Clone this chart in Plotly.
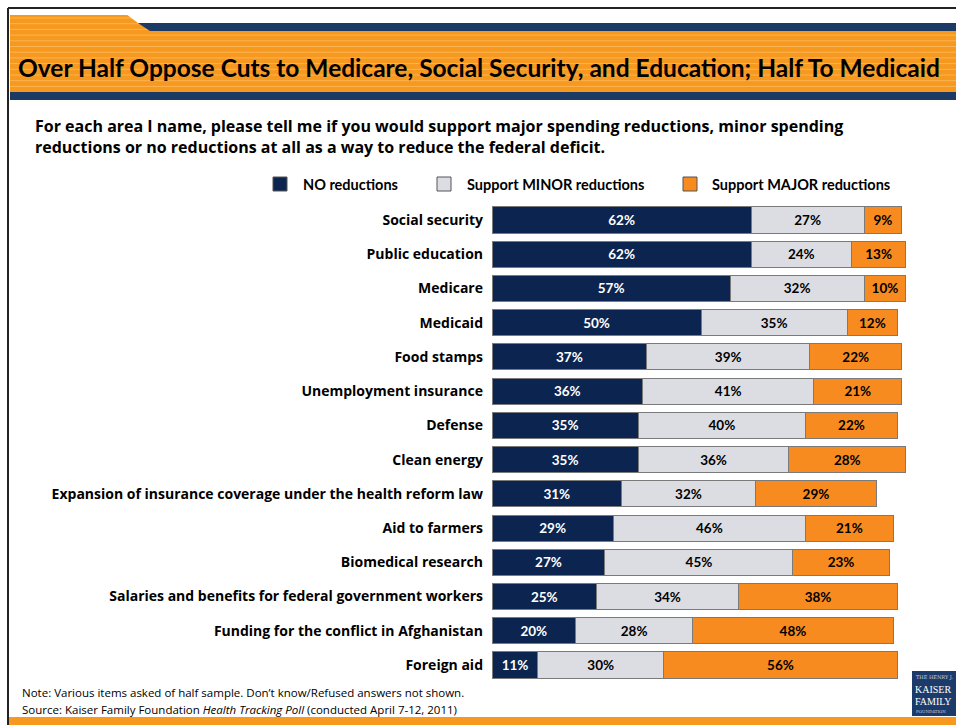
import plotly.graph_objects as go

# Survey items (top to bottom) and response shares in percent
categories = [
    "Social security",
    "Public education",
    "Medicare",
    "Medicaid",
    "Food stamps",
    "Unemployment insurance",
    "Defense",
    "Clean energy",
    "Expansion of insurance coverage under the health reform law",
    "Aid to farmers",
    "Biomedical research",
    "Salaries and benefits for federal government workers",
    "Funding for the conflict in Afghanistan",
    "Foreign aid",
]
no_reductions = [62, 62, 57, 50, 37, 36, 35, 35, 31, 29, 27, 25, 20, 11]
minor_reductions = [27, 24, 32, 35, 39, 41, 40, 36, 32, 46, 45, 34, 28, 30]
major_reductions = [9, 13, 10, 12, 22, 21, 22, 28, 29, 21, 23, 38, 48, 56]

series_names = ["NO reductions", "Support MINOR reductions", "Support MAJOR reductions"]

W, H = 956, 725
FONT = "Open Sans"
FONT_NARROW = "Lato"
NAVY_BAR = "#0c2550"
GRAY_BAR = "#dcdce3"
ORANGE_BAR = "#f78b1f"
HEADER_ORANGE = "#f7981f"
HEADER_NAVY = "#1b3a64"


def X(px):
    return px / W


def Y(py):
    return 1 - py / H


fig = go.Figure()

series = [
    (series_names[0], no_reductions, NAVY_BAR, "white"),
    (series_names[1], minor_reductions, GRAY_BAR, "black"),
    (series_names[2], major_reductions, ORANGE_BAR, "black"),
]
for name, vals, color, tcolor in series:
    fig.add_trace(go.Bar(
        y=categories, x=vals, name=name, orientation="h",
        marker=dict(color=color, line=dict(color="#7a7a7a", width=1)),
        texttemplate="%{x}%", textposition="inside", insidetextanchor="middle",
        textangle=0, constraintext="none",
        textfont=dict(family=FONT_NARROW, size=13.5, color=tcolor, weight="bold"),
        showlegend=False, hoverinfo="skip",
    ))

shapes = []
# header background with its tab at the top left
shapes.append(dict(type="rect", xref="paper", yref="paper", x0=X(10), x1=X(W), y0=Y(92), y1=Y(15),
                   fillcolor=HEADER_ORANGE, line=dict(width=0), layer="below"))
y = 18.0
while y < 91:
    shapes.append(dict(type="line", xref="paper", yref="paper", x0=X(10), x1=X(W), y0=Y(y), y1=Y(y),
                       line=dict(color="rgba(255,205,130,0.55)", width=1), layer="below"))
    y += 5.7
# white cut-out right of the tab
shapes.append(dict(type="path", xref="paper", yref="paper",
                   path=f"M {X(126)},{Y(14)} L {X(W)},{Y(14)} L {X(W)},{Y(23)} L {X(138)},{Y(23)} Z",
                   fillcolor="white", line=dict(width=0), layer="below"))
# navy band along the top
shapes.append(dict(type="path", xref="paper", yref="paper",
                   path=f"M {X(138)},{Y(23)} L {X(W)},{Y(23)} L {X(W)},{Y(31)} L {X(150)},{Y(31)} Z",
                   fillcolor=HEADER_NAVY, line=dict(width=0), layer="below"))
# navy band under the title
shapes.append(dict(type="rect", xref="paper", yref="paper", x0=X(10), x1=X(W), y0=Y(100), y1=Y(92),
                   fillcolor=HEADER_NAVY, line=dict(width=0), layer="below"))
# slide frame
shapes.append(dict(type="line", xref="paper", yref="paper", x0=X(8), x1=X(8), y0=Y(8), y1=Y(H),
                   line=dict(color="#222", width=2)))
shapes.append(dict(type="line", xref="paper", yref="paper", x0=X(8), x1=X(W), y0=Y(8), y1=Y(8),
                   line=dict(color="#222", width=2)))
# bottom orange strip
shapes.append(dict(type="rect", xref="paper", yref="paper", x0=X(9), x1=X(W), y0=Y(H), y1=Y(717),
                   fillcolor=HEADER_ORANGE, line=dict(width=0)))
# foundation logo block
shapes.append(dict(type="rect", xref="paper", yref="paper", x0=X(912), x1=X(W), y0=Y(716), y1=Y(671),
                   fillcolor="#1d3b6a", line=dict(width=0)))

# legend swatches
legend_items = [(273, 301, NAVY_BAR), (437, 465, GRAY_BAR), (683, 710, ORANGE_BAR)]
annotations = []
for (sx, tx, col), name in zip(legend_items, series_names):
    shapes.append(dict(type="rect", xref="paper", yref="paper", x0=X(sx), x1=X(sx + 14),
                       y0=Y(191), y1=Y(177), fillcolor=col, line=dict(color="#555", width=1)))
    annotations.append(dict(xref="paper", yref="paper", x=X(tx), y=Y(184), text=name,
                            showarrow=False, xanchor="left", yanchor="middle",
                            font=dict(family=FONT_NARROW, size=14.5, color="black", weight="bold")))

annotations += [
    dict(xref="paper", yref="paper", x=X(479), y=Y(68),
         text="Over Half Oppose Cuts to Medicare, Social Security, and Education; Half To Medicaid",
         showarrow=False, xanchor="center", yanchor="middle",
         font=dict(family=FONT_NARROW, size=24.5, color="black", weight="bold")),
    dict(xref="paper", yref="paper", x=X(33), y=Y(126),
         text="For each area I name, please tell me if you would support major spending reductions, minor spending",
         showarrow=False, xanchor="left", yanchor="middle",
         font=dict(family=FONT, size=16, color="black", weight="bold")),
    dict(xref="paper", yref="paper", x=X(33), y=Y(147),
         text="reductions or no reductions at all as a way to reduce the federal deficit.",
         showarrow=False, xanchor="left", yanchor="middle",
         font=dict(family=FONT, size=16, color="black", weight="bold")),
    dict(xref="paper", yref="paper", x=X(20), y=Y(692),
         text="Note: Various items asked of half sample. Don\u2019t know/Refused answers not shown.",
         showarrow=False, xanchor="left", yanchor="middle",
         font=dict(family=FONT, size=11.5, color="black")),
    dict(xref="paper", yref="paper", x=X(20), y=Y(709),
         text="Source: Kaiser Family Foundation <i>Health Tracking Poll</i> (conducted April 7-12, 2011)",
         showarrow=False, xanchor="left", yanchor="middle",
         font=dict(family=FONT, size=11.5, color="black")),
    # logo lettering
    dict(xref="paper", yref="paper", x=X(914), y=Y(677), text="THE HENRY J.",
         showarrow=False, xanchor="left", yanchor="middle",
         font=dict(family="DejaVu Serif", size=5, color="#c8d0e0")),
    dict(xref="paper", yref="paper", x=X(913), y=Y(689), text="KAISER",
         showarrow=False, xanchor="left", yanchor="middle",
         font=dict(family="Liberation Serif", size=10, color="white")),
    dict(xref="paper", yref="paper", x=X(913), y=Y(701), text="FAMILY",
         showarrow=False, xanchor="left", yanchor="middle",
         font=dict(family="Liberation Serif", size=10, color="white")),
    dict(xref="paper", yref="paper", x=X(914), y=Y(711), text="FOUNDATION",
         showarrow=False, xanchor="left", yanchor="middle",
         font=dict(family="DejaVu Serif", size=4, color="#c8d0e0")),
]

row_h = (665 - 220) / 13
top_px = 220 - row_h / 2
bot_px = 665 + row_h / 2

fig.update_layout(
    width=W, height=H,
    margin=dict(l=0, r=0, t=0, b=0, pad=0),
    paper_bgcolor="white", plot_bgcolor="white",
    barmode="stack", bargap=0.24,
    font=dict(family=FONT),
    xaxis=dict(domain=[X(492), X(910)], range=[0, 100], visible=False, fixedrange=True),
    yaxis=dict(domain=[Y(bot_px), Y(top_px)], autorange="reversed", showgrid=False,
               showline=False, ticks="", ticklabelstandoff=8,
               tickfont=dict(family=FONT, size=14, color="black", weight="bold")),
    shapes=shapes,
    annotations=annotations,
    uniformtext=dict(mode=False),
)

fig.write_html("out.html")
